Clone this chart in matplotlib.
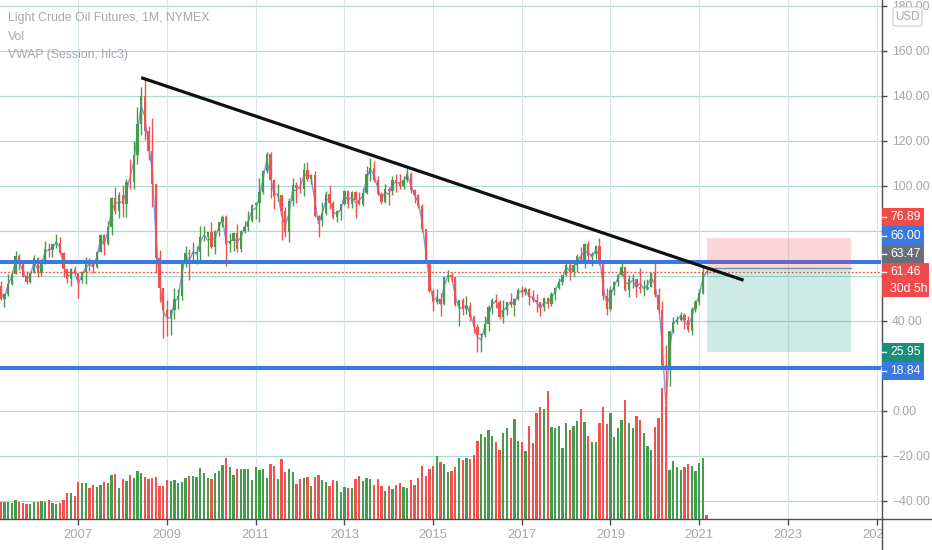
import matplotlib
matplotlib.use("Agg")
import matplotlib.pyplot as plt
from matplotlib.patches import Rectangle, FancyBboxPatch
from matplotlib.lines import Line2D
import numpy as np

plt.rcParams['font.family'] = ['Liberation Sans', 'DejaVu Sans']

# ---------------- data (monthly WTI bars, Apr 2005 .. Mar 2021) ----------------
START_YEAR, START_MONTH = 2005, 4

opens = [
    55.40, 49.72, 51.97, 56.50, 60.57, 68.94, 66.24, 59.76, 57.32,
    61.04, 67.92, 61.41, 66.63, 71.88, 71.29, 73.93, 74.40, 70.26, 62.91, 58.73, 63.13,
    61.05, 58.14, 61.79, 65.87, 65.71, 64.01, 70.68, 78.21, 74.04, 81.66, 94.53, 88.71,
    95.98, 91.75, 101.84, 101.58, 113.46, 127.35, 140.00, 124.08, 115.46, 100.64, 67.81, 54.43,
    44.60, 41.68, 44.76, 49.66, 51.12, 66.31, 69.89, 69.45, 69.96, 70.61, 77.00, 77.28,
    79.36, 72.89, 79.66, 83.76, 86.15, 73.97, 75.63, 78.95, 71.92, 79.97, 81.43, 84.11,
    91.38, 92.19, 96.97, 106.72, 113.93, 102.70, 95.42, 95.70, 88.81, 79.20, 93.19, 100.36,
    98.83, 98.48, 107.07, 103.02, 104.87, 86.53, 84.96, 88.06, 96.47, 92.19, 86.24, 88.91,
    91.82, 97.49, 92.05, 97.23, 93.46, 91.97, 96.56, 105.03, 107.65, 102.33, 96.38, 92.72,
    98.42, 97.49, 102.59, 101.58, 99.74, 102.71, 105.37, 98.17, 95.96, 91.16, 80.54, 66.15,
    53.27, 48.24, 49.76, 47.60, 59.63, 60.30, 59.47, 47.12, 49.20, 45.09, 46.59, 41.65,
    37.04, 33.62, 33.75, 38.34, 45.92, 49.10, 48.33, 41.60, 44.70, 48.24, 46.86, 49.44,
    53.72, 52.81, 54.01, 50.60, 49.33, 48.32, 46.04, 50.17, 47.23, 51.67, 54.38, 57.40,
    60.42, 64.73, 61.64, 64.94, 68.57, 67.04, 74.15, 68.76, 69.80, 73.25, 65.31, 50.93,
    45.41, 53.79, 57.22, 60.14, 63.91, 53.50, 58.47, 58.58, 55.10, 54.07, 54.18, 55.17,
    61.06, 51.56, 44.76, 20.48, 18.84, 35.49, 39.27, 40.27, 42.61, 40.22, 35.79, 45.34,
    48.52, 52.20, 61.70,
]
highs = [
    57.65, 52.20, 60.95, 62.10, 70.85, 69.81, 66.70, 62.10, 61.90,
    69.20, 68.45, 67.25, 75.35, 74.70, 74.10, 78.40, 77.20, 70.45, 63.20, 63.40, 64.25,
    61.10, 62.30, 68.35, 67.95, 66.70, 70.90, 78.75, 78.75, 84.10, 94.75, 99.30, 97.00,
    100.10, 103.05, 111.80, 119.90, 135.10, 143.67, 147.27, 126.40, 130.00, 100.80, 71.20, 54.50,
    49.00, 45.20, 54.65, 54.00, 66.60, 73.40, 72.00, 75.00, 73.00, 82.00, 82.00, 79.40,
    83.95, 80.50, 83.85, 87.15, 87.00, 79.00, 79.30, 83.00, 80.40, 84.40, 88.60, 92.05,
    92.60, 103.40, 106.95, 114.85, 114.85, 103.00, 100.60, 96.00, 90.50, 94.65, 103.35, 101.80,
    103.75, 109.95, 110.55, 105.20, 106.45, 87.00, 92.95, 97.45, 100.40, 93.00, 89.40, 91.90,
    98.25, 98.25, 97.80, 97.85, 97.20, 99.00, 108.90, 112.25, 110.75, 104.50, 97.00, 100.70,
    99.40, 104.15, 105.25, 104.99, 104.25, 107.70, 106.00, 98.70, 96.50, 92.00, 80.90, 67.00,
    54.00, 54.25, 52.50, 59.90, 62.60, 61.70, 59.50, 49.35, 50.00, 50.90, 48.40, 42.50,
    38.40, 34.70, 41.90, 46.80, 50.20, 51.65, 49.00, 49.00, 48.40, 52.20, 50.20, 54.50,
    55.25, 54.95, 54.50, 53.75, 52.00, 48.50, 50.40, 50.40, 52.85, 54.90, 59.05, 60.50,
    66.65, 66.65, 66.55, 69.55, 72.90, 74.45, 75.25, 70.50, 73.85, 76.90, 65.60, 54.55,
    55.40, 57.80, 60.75, 66.60, 63.95, 60.10, 60.95, 58.75, 63.40, 57.90, 58.65, 61.85,
    65.65, 54.70, 48.66, 29.13, 35.50, 41.60, 42.30, 43.80, 43.40, 41.90, 46.30, 49.40,
    53.90, 63.80, 63.00,
]
lows = [
    49.25, 46.20, 51.10, 56.05, 60.55, 62.55, 59.40, 56.15, 56.90,
    61.00, 59.25, 59.80, 65.40, 68.25, 68.20, 72.35, 69.65, 59.55, 56.55, 55.35, 60.25,
    49.90, 56.80, 56.50, 61.90, 61.05, 63.60, 70.60, 69.00, 73.80, 78.30, 87.60, 85.60,
    86.10, 86.10, 98.65, 98.65, 109.60, 122.40, 120.40, 111.30, 90.50, 61.30, 48.25, 32.40,
    33.20, 33.55, 40.70, 45.10, 49.25, 64.00, 58.30, 66.70, 65.05, 66.00, 75.20, 68.60,
    72.45, 69.50, 77.50, 81.50, 64.25, 70.70, 71.00, 70.75, 70.75, 79.05, 80.00, 84.00,
    85.10, 83.85, 96.20, 105.70, 94.60, 89.70, 93.00, 75.70, 77.10, 74.95, 91.00, 92.50,
    96.75, 95.45, 102.15, 100.70, 86.00, 77.30, 82.10, 86.90, 89.70, 85.00, 84.05, 84.70,
    91.50, 90.30, 89.90, 85.60, 91.40, 91.10, 96.50, 102.20, 101.50, 95.80, 91.75, 92.50,
    91.25, 96.00, 97.40, 98.60, 98.50, 101.50, 96.75, 92.50, 90.05, 79.45, 65.70, 52.65,
    44.20, 47.35, 42.00, 47.10, 57.00, 57.00, 46.70, 37.75, 42.60, 43.00, 39.90, 34.50,
    26.20, 26.05, 32.60, 35.25, 43.00, 45.85, 40.60, 39.20, 42.50, 46.30, 42.20, 49.30,
    50.70, 51.25, 47.10, 48.20, 43.75, 42.05, 44.40, 45.60, 46.50, 49.10, 54.20, 55.80,
    59.95, 58.05, 59.60, 61.85, 66.50, 63.60, 67.05, 64.45, 67.30, 64.85, 49.40, 42.35,
    44.35, 51.35, 55.35, 60.05, 53.00, 50.60, 54.70, 50.50, 52.50, 50.95, 53.80, 55.00,
    50.60, 43.30, 19.27, -40.32, 11.00, 34.35, 38.70, 40.00, 36.10, 34.90, 33.65, 44.05,
    47.20, 51.65, 60.80,
]
closes = [
    49.72, 51.97, 56.50, 60.57, 68.94, 66.24, 59.76, 57.32, 61.04,
    67.92, 61.41, 66.63, 71.88, 71.29, 73.93, 74.40, 70.26, 62.91, 58.73, 63.13, 61.05,
    58.14, 61.79, 65.87, 65.71, 64.01, 70.68, 78.21, 74.04, 81.66, 94.53, 88.71, 95.98,
    91.75, 101.84, 101.58, 113.46, 127.35, 140.00, 124.08, 115.46, 100.64, 67.81, 54.43, 44.60,
    41.68, 44.76, 49.66, 51.12, 66.31, 69.89, 69.45, 69.96, 70.61, 77.00, 77.28, 79.36,
    72.89, 79.66, 83.76, 86.15, 73.97, 75.63, 78.95, 71.92, 79.97, 81.43, 84.11, 91.38,
    92.19, 96.97, 106.72, 113.93, 102.70, 95.42, 95.70, 88.81, 79.20, 93.19, 100.36, 98.83,
    98.48, 107.07, 103.02, 104.87, 86.53, 84.96, 88.06, 96.47, 92.19, 86.24, 88.91, 91.82,
    97.49, 92.05, 97.23, 93.46, 91.97, 96.56, 105.03, 107.65, 102.33, 96.38, 92.72, 98.42,
    97.49, 102.59, 101.58, 99.74, 102.71, 105.37, 98.17, 95.96, 91.16, 80.54, 66.15, 53.27,
    48.24, 49.76, 47.60, 59.63, 60.30, 59.47, 47.12, 49.20, 45.09, 46.59, 41.65, 37.04,
    33.62, 33.75, 38.34, 45.92, 49.10, 48.33, 41.60, 44.70, 48.24, 46.86, 49.44, 53.72,
    52.81, 54.01, 50.60, 49.33, 48.32, 46.04, 50.17, 47.23, 51.67, 54.38, 57.40, 60.42,
    64.73, 61.64, 64.94, 68.57, 67.04, 74.15, 68.76, 69.80, 73.25, 65.31, 50.93, 45.41,
    53.79, 57.22, 60.14, 63.91, 53.50, 58.47, 58.58, 55.10, 54.07, 54.18, 55.17, 61.06,
    51.56, 44.76, 20.48, 18.84, 35.49, 39.27, 40.27, 42.61, 40.22, 35.79, 45.34, 48.52,
    52.20, 61.50, 61.46,
]
# volume, relative units
volume = [
    17.3, 16.7, 17.3, 16.3, 19.0, 17.0, 16.3, 15.3, 15.0,
    17.3, 17.3, 18.3, 17.3, 19.0, 15.7, 15.3, 16.3, 19.0, 25.7, 26.0, 23.3,
    36.7, 35.7, 35.7, 31.3, 34.3, 32.3, 33.7, 36.7, 35.7, 44.0, 45.3, 31.0,
    39.7, 37.7, 44.3, 41.0, 48.3, 45.7, 42.0, 40.0, 40.7, 41.7, 33.3, 33.3,
    38.7, 37.7, 39.0, 35.7, 36.7, 41.0, 43.0, 43.0, 42.0, 50.7, 46.3, 41.0,
    40.0, 46.3, 47.7, 54.0, 60.7, 51.7, 44.3, 49.7, 49.7, 49.7, 49.7, 39.0,
    51.7, 48.7, 49.7, 41.0, 55.3, 53.0, 40.0, 59.7, 46.7, 49.7, 46.7, 34.7,
    40.0, 41.0, 42.0, 33.3, 42.0, 44.0, 38.7, 37.0, 33.3, 39.0, 37.7, 26.7,
    32.0, 31.0, 31.0, 40.0, 43.0, 37.7, 41.0, 40.0, 34.3, 40.0, 33.3, 28.0,
    33.3, 30.0, 34.3, 35.7, 32.0, 31.0, 38.7, 34.3, 41.0, 53.0, 43.3, 49.7,
    52.7, 63.0, 57.3, 55.3, 46.7, 47.7, 52.0, 60.7, 58.7, 60.7, 59.7, 64.0,
    78.0, 84.7, 81.7, 89.0, 83.3, 76.7, 69.3, 85.7, 91.3, 81.3, 100.0, 78.0,
    77.0, 68.0, 93.3, 75.7, 105.7, 111.7, 110.0, 128.3, 92.3, 91.3, 93.3, 70.7,
    95.7, 89.0, 93.3, 97.7, 110.0, 96.7, 82.7, 77.0, 77.0, 95.7, 111.7, 94.7,
    105.7, 81.7, 91.3, 99.0, 119.0, 95.7, 91.3, 103.3, 99.0, 85.7, 73.3, 69.3,
    92.3, 101.3, 131.0, 113.3, 49.0, 58.3, 51.7, 49.0, 52.3, 55.0, 53.3, 47.7,
    56.3, 60.7, 4.0,
]

year_ticks = [2007, 2009, 2011, 2013, 2015, 2017, 2019, 2021, 2023, 2025]
price_ticks = [-40, -20, 0, 20, 40, 60, 80, 100, 120, 140, 160, 180]

trend_start = ((2008, 6), 148.0)
trend_end = ((2022, 1), 58.0)
levels = [66.00, 18.84]
position_span = ((2021, 3), (2024, 6))
entry_price, stop_price, target_price = 63.47, 76.89, 25.95
last_price = 61.46
countdown = "30d 5h"
legend_lines = ["Light Crude Oil Futures, 1M, NYMEX", "Vol", "VWAP (Session, hlc3)"]


def midx(y, m):
    return (y - START_YEAR) * 12 + (m - START_MONTH)


# ---------------- style ----------------
GREEN = '#449c4c'
RED = '#ef5350'
BLUE = '#3b78e0'
TEAL = '#17907a'
GRAY_LBL = '#6b6e78'
TXT = '#a4a7ae'
AXIS_C = '#4a4d57'
LBL_FS = 8.8

W, H = 932, 550
fig = plt.figure(figsize=(W / 100, H / 100), dpi=100)
fig.patch.set_facecolor('white')
rect = [0, 31 / H, 881 / W, 519 / H]
ax = fig.add_axes(rect, zorder=0)
axv = fig.add_axes(rect, zorder=1, sharex=ax)
axc = fig.add_axes(rect, zorder=2, sharex=ax, sharey=ax)
for a in (axv, axc):
    a.set_axis_off()
    a.patch.set_alpha(0)

n = len(closes)
x = np.arange(n)
o = np.array(opens); h = np.array(highs); l = np.array(lows); c = np.array(closes)
up = c >= o
cols = [GREEN if u else RED for u in up]

ax.set_xlim(-0.2, midx(2025, 1) + 1.2)
ax.set_ylim(-48.1, 182.5)
axv.set_ylim(0, 519)

# grid
for p in price_ticks:
    ax.axhline(p, color='#acdad3', lw=0.85, zorder=0)
for yr in year_ticks:
    ax.axvline(midx(yr, 1), color='#d6e6ec', lw=0.8, zorder=0)

for s in ax.spines.values():
    s.set_visible(False)
ax.yaxis.tick_right()
ax.set_yticks(price_ticks)
ax.set_yticklabels([f"{p:.2f}".replace('-', '\u2212') for p in price_ticks])
ax.set_xticks([midx(yr, 1) for yr in year_ticks])
ax.set_xticklabels([str(yr) for yr in year_ticks])
ax.tick_params(axis='y', right=True, left=False, length=4, width=1, color=AXIS_C,
               labelcolor=TXT, labelsize=LBL_FS, pad=4)
ax.tick_params(axis='x', bottom=True, length=4, width=1, color=AXIS_C,
               labelcolor=TXT, labelsize=9.4, pad=3.5)

# volume
axv.bar(x, volume, width=0.62, color=cols, linewidth=0)

# vwap (session, hlc3)
hlc3 = (h + l + c) / 3
axc.plot(x, hlc3, color='#8f93e6', lw=1.0, zorder=1)

# candles
axc.vlines(x, l, h, colors=cols, lw=1.0, zorder=2)
body = np.maximum(np.abs(c - o), 0.4)
axc.bar(x, body, bottom=np.minimum(o, c), width=0.62, color=cols, linewidth=0, zorder=3)

# horizontal levels
for lv in levels:
    axc.axhline(lv, color=BLUE, lw=2.9, zorder=4)
axc.axhline(last_price, color=RED, lw=0.9, ls=(0, (1.5, 1.5)), zorder=4)

# long/short position tool
px0 = midx(*position_span[0]); px1 = midx(*position_span[1])
axc.add_patch(Rectangle((px0, entry_price), px1 - px0, stop_price - entry_price,
                        facecolor='#f23645', alpha=0.2, linewidth=0, zorder=5))
axc.add_patch(Rectangle((px0, target_price), px1 - px0, entry_price - target_price,
                        facecolor='#089981', alpha=0.2, linewidth=0, zorder=5))
axc.plot([px0, px1], [entry_price, entry_price], color='#8a8d96', lw=1.0, zorder=5)

# trend line
axc.plot([midx(*trend_start[0]), midx(*trend_end[0])], [trend_start[1], trend_end[1]],
         color='#111111', lw=2.3, solid_capstyle='butt', zorder=6)

# legend texts
for i, t in enumerate(legend_lines):
    fig.text(7.5 / W, 1 - (18.3 + 18.4 * i) / H, t, color=TXT, fontsize=8.8,
             ha='left', va='center')

# frame lines (price scale and time scale)
fig.add_artist(Rectangle((882 / W, 0), 50 / W, 30.5 / H, transform=fig.transFigure,
                         facecolor='white', edgecolor='none', zorder=20))
fig.add_artist(Line2D([881.5 / W, 881.5 / W], [0, 1], transform=fig.transFigure,
                      color=AXIS_C, lw=1.0, zorder=21))
fig.add_artist(Line2D([0, 1], [31 / H, 31 / H], transform=fig.transFigure,
                      color=AXIS_C, lw=1.0, zorder=21))

# price-scale labels with collision stacking
fig.canvas.draw()


def ypix(price):
    return H - ax.transData.transform((0, price))[1]


BOX_H = 18.4
spans = []


def box(ytop, height, width, color, lines):
    spans.append((ytop, ytop + height))
    fig.add_artist(Rectangle((881.5 / W, 1 - (ytop + height) / H), width / W, height / H,
                             transform=fig.transFigure, facecolor=color, edgecolor='none',
                             zorder=22))
    for k, t in enumerate(lines):
        yc = ytop + BOX_H / 2 + 16.4 * k
        fig.text(890 / W, 1 - yc / H, t, color='white', fontsize=LBL_FS, ha='left',
                 va='center', zorder=23)
    fig.add_artist(Line2D([881.5 / W, 885.5 / W], [1 - (ytop + BOX_H / 2) / H] * 2,
                          transform=fig.transFigure, color='white', lw=1.0, zorder=23))


cur_top = ypix(last_price) - BOX_H / 2
cur_h = 34
box(cur_top, cur_h, 47, '#f04b4b', [f"{last_price:.2f}", countdown])

above = sorted([(stop_price, '#f04b4b'), (levels[0], BLUE), (entry_price, GRAY_LBL)])
limit = cur_top
for p, col in above:
    yc = min(ypix(p), limit - BOX_H / 2)
    box(yc - BOX_H / 2, BOX_H, 42, col, [f"{p:.2f}"])
    limit = yc - BOX_H / 2

below = sorted([(target_price, TEAL), (levels[1], BLUE)], reverse=True)
limit = cur_top + cur_h
for p, col in below:
    yc = max(ypix(p), limit + BOX_H / 2)
    box(yc - BOX_H / 2, BOX_H, 42, col, [f"{p:.2f}"])
    limit = yc + BOX_H / 2

# tick labels hidden behind the price labels
for p, lab in zip(price_ticks, ax.get_yticklabels()):
    yp = ypix(p)
    if any(a - 6 < yp < b + 6 for a, b in spans):
        lab.set_visible(False)

# currency badge
fig.add_artist(FancyBboxPatch((893 / W, 1 - 26 / H), 29 / W, 19 / H,
                              boxstyle='round,pad=0,rounding_size=0.004',
                              transform=fig.transFigure, facecolor='white',
                              edgecolor='#c9ccd3', lw=0.8, zorder=22))
fig.text(907.5 / W, 1 - 16.5 / H, "USD", color=TXT, fontsize=8.4, ha='center',
         va='center', zorder=23)

fig.savefig('out.png', dpi=100)
